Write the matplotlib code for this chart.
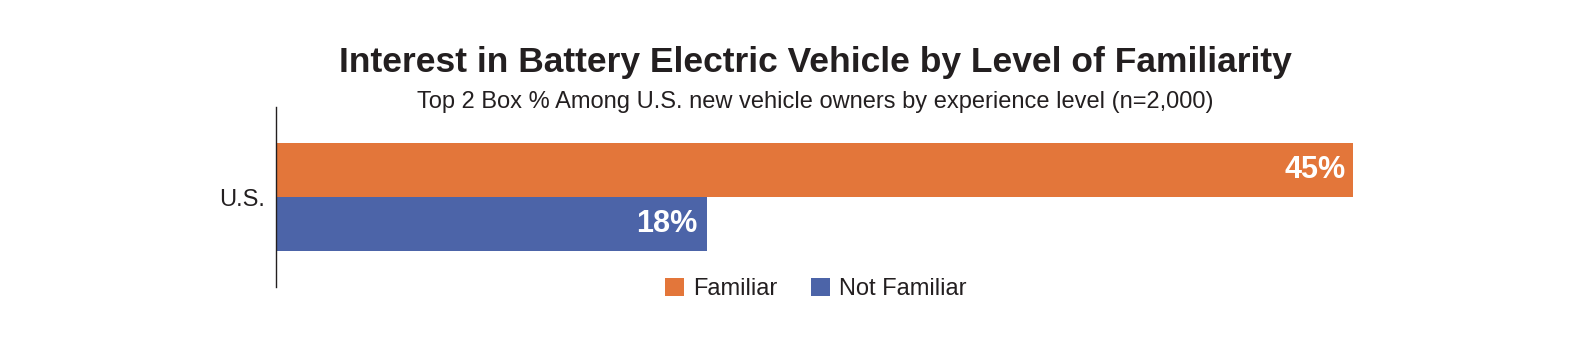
import matplotlib
matplotlib.use("Agg")
import matplotlib.pyplot as plt
from matplotlib.patches import Patch

categories = ["U.S."]
series_names = ["Familiar", "Not Familiar"]
familiar = [45]
not_familiar = [18]
colors = ["#E3763A", "#4C64A8"]

title = "Interest in Battery Electric Vehicle by Level of Familiarity"
subtitle = "Top 2 Box % Among U.S. new vehicle owners by experience level (n=2,000)"

plt.rcParams['font.family'] = ['Liberation Sans', 'DejaVu Sans']
TXT = "#231F20"

W, H = 1572, 346
fig = plt.figure(figsize=(W / 100, H / 100), dpi=100)
fig.patch.set_facecolor("white")

ax_left, ax_right = 276, 1472.7
ax_top, ax_bot = 107, 287
ax = fig.add_axes([ax_left / W, 1 - ax_bot / H, (ax_right - ax_left) / W, (ax_bot - ax_top) / H])

ys = list(range(len(categories)))
bh = 1.0
for i, y in enumerate(ys):
    ax.barh(y + bh / 2, familiar[i], height=bh, color=colors[0], linewidth=0)
    ax.barh(y - bh / 2, not_familiar[i], height=bh, color=colors[1], linewidth=0)
    ax.text(familiar[i] - 0.3, y + bh / 2, f"{familiar[i]}%", ha="right", va="center",
            color="white", fontsize=22, fontweight="bold")
    ax.text(not_familiar[i] - 0.4, y - bh / 2, f"{not_familiar[i]}%", ha="right", va="center",
            color="white", fontsize=22, fontweight="bold")

ax.set_xlim(0, 50)
ax.set_ylim(-1.667, 1.667)
ax.set_yticks(ys)
ax.set_yticklabels(categories, fontsize=17, color=TXT)
ax.tick_params(axis="y", length=0, pad=8)
ax.set_xticks([])
for s in ["top", "right", "bottom"]:
    ax.spines[s].set_visible(False)
ax.spines["left"].set_color(TXT)
ax.spines["left"].set_linewidth(1.0)
ax.patch.set_alpha(0)

fig.text(815 / W, 1 - 72 / H, title, ha="center", va="baseline",
         fontsize=25.5, fontweight="bold", color=TXT)
fig.text(815 / W, 1 - 108 / H, subtitle, ha="center", va="baseline",
         fontsize=17, color=TXT)

handles = [Patch(facecolor=c, edgecolor="none") for c in colors]
leg = fig.legend(handles, series_names, loc="center", bbox_to_anchor=(816 / W, 1 - 289 / H),
                 ncol=2, frameon=False, fontsize=17, handlelength=0.8, handleheight=0.8,
                 handletextpad=0.4, columnspacing=1.4, borderpad=0, borderaxespad=0)
for t in leg.get_texts():
    t.set_color(TXT)

fig.savefig("out.png", dpi=100, facecolor="white")
